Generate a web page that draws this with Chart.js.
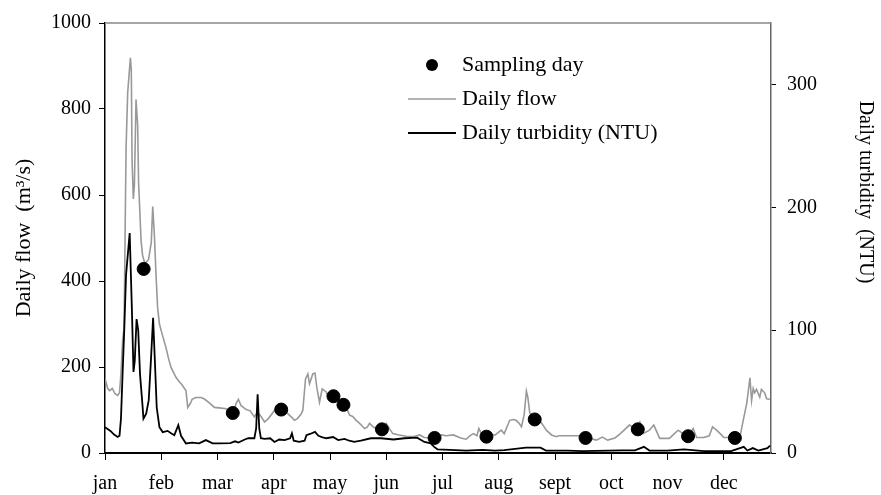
<!DOCTYPE html>
<html>
<head>
<meta charset="utf-8">
<script src="https://cdn.jsdelivr.net/npm/chart.js@4.4.1/dist/chart.umd.min.js"></script>
<style>
  body { margin: 0; background: #fff; }
</style>
</head>
<body>
<canvas id="grafico" width="881" height="495"></canvas>
<script>
// mesi sull'asse x (una tacca ogni 31 giorni)
var monthLabels = ['jan', 'feb', 'mar', 'apr', 'may', 'jun', 'jul', 'aug', 'sept', 'oct', 'nov', 'dec'];
var tickDays = [0, 31, 62, 93, 124, 155, 186, 217, 248, 279, 310, 341];

// portata giornaliera (m3/s)
var flowDays = [0, 1.5, 2.5, 4, 5.5, 7, 8, 8.8, 9.7, 10.5, 11.6, 12.5, 14, 14.5, 14.9, 15.6, 16.2, 17.1, 18, 18.5,
  19.9, 20.7, 22, 24, 25.5, 26.3, 27.2, 28.1, 29, 30, 31, 33.6, 35, 36.4, 38, 39.1, 41, 42, 44.6, 45.6,
  47, 48, 50, 53, 55, 58, 60.3, 63, 66.7, 69, 71, 72.2, 73.5, 75, 77.8, 80, 82.3, 84, 86, 87.9,
  90, 93.4, 96, 99, 102.6, 104.4, 106, 108, 109, 110.5, 111.8, 112.7, 114.5, 115.7, 116.7, 118.2, 119.7, 121.9, 123.5, 125.9,
  128, 130, 131.4, 133, 134.8, 136.5, 138.4, 140, 141.2, 143, 144.5, 145.8, 148, 150, 152.6, 155, 157, 158.6, 162, 166,
  170, 173.4, 176, 181.6, 183, 185.3, 188, 192, 196, 199, 201, 203, 205, 206, 208, 210, 212, 215, 218.4, 220,
  223, 225, 226.5, 228, 229.5, 231, 232.2, 233, 234, 235.5, 238, 240.5, 243.2, 246, 248.8, 250, 253, 257, 261, 264.8,
  267, 270.8, 274, 277, 281, 284, 289, 292, 294.7, 296.5, 300, 302.4, 305.7, 311, 315.8, 318.5, 321.3, 324.1, 326, 330,
  333, 334.8, 337, 339, 341, 345, 347.1, 349.9, 351.7, 353.6, 354.5, 355.4, 356.3, 357.2, 358, 359, 360.8, 361.7, 363.5, 364.6, 366.4];
var flowValues = [173, 150, 145, 150, 138, 134, 140, 185, 261, 290, 707, 838, 919, 890, 683, 591, 623, 822, 762, 630,
  492, 460, 440, 450, 490, 573, 508, 415, 338, 300, 284, 245, 220, 199, 185, 176, 165, 161, 145, 106,
  115, 125, 129, 129, 125, 115, 106, 105, 103, 98, 95, 115, 125, 110, 101, 98, 84, 95, 85, 72,
  80, 99, 100, 98, 84, 76, 80, 90, 99, 172, 184, 161, 184, 186, 153, 118, 149, 142, 125, 132,
  128, 118, 112, 105, 88, 85, 76, 70, 65, 57, 60, 69, 60, 57, 55, 69, 55, 45, 42, 39,
  38, 42, 36, 35, 32, 42, 40, 42, 35, 32, 40, 45, 40, 57, 40, 38, 42, 42, 53, 45,
  76, 78, 76, 70, 61, 90, 144, 130, 95, 78, 76, 70, 53, 42, 38, 40, 40, 40, 40, 35,
  34, 30, 37, 30, 35, 45, 65, 58, 72, 45, 53, 65, 34, 34, 53, 45, 38, 57, 36, 36,
  40, 61, 53, 45, 36, 36, 35, 38, 76, 115, 144, 175, 122, 150, 140, 148, 130, 148, 140, 126, 125];

// torbidita giornaliera (NTU)
var turbDays = [0, 3, 5, 7, 8, 8.8, 9.7, 10.6, 11.6, 13.6, 14.8, 15.7, 16.4, 17.4, 18.3, 19.3, 20.6, 21.2, 22.7, 24.1,
  25.4, 26.5, 27.4, 28.5, 30, 31.8, 34.5, 36.4, 38.2, 40.4, 41.9, 44.6, 48, 51.9, 55.6, 59.3, 63, 69, 71.7, 73.5,
  77, 79, 82.3, 83.3, 84.1, 85, 85.9, 88, 91, 93.4, 96, 99, 102, 103, 104, 107, 110, 111, 113, 115.7,
  117.6, 119.5, 122, 125.7, 128.5, 132, 134.6, 137.3, 141, 146.5, 152, 159, 165, 172, 176, 179.5, 181.4, 183.2, 190, 199,
  208, 215, 220, 232, 240, 243, 255, 263, 285, 292, 297, 300, 310, 319, 330, 345, 352, 354, 357, 360, 365, 366.5];
var turbValues = [21, 18, 15, 13, 14, 28, 65, 100, 145, 179, 118, 66, 75, 109, 100, 64, 40, 28, 32, 43,
  78, 110, 78, 37, 21, 17, 18, 16, 14.5, 22.6, 14, 7.8, 8.5, 7.8, 10.5, 7.8, 7.8, 8, 9.5, 8.5,
  11, 12, 12, 20, 47.7, 20, 12, 11.5, 12, 9, 11, 10.5, 12, 16, 10, 9, 10, 14.5, 15.5, 17.2,
  14, 13, 12, 13, 10.5, 11.5, 10, 9, 10, 12, 12, 11, 12, 12.5, 9, 7.8, 5, 3, 2.5, 1.9,
  2.5, 1.9, 2.3, 4.3, 4.3, 2, 2, 1.5, 2.2, 2.2, 5, 2, 2, 3, 1.5, 1.5, 5, 2, 4, 2, 4, 6];

// giorni di campionamento
var sampleDays = [21.3, 70.4, 97.1, 125.9, 131.4, 152.6, 181.6, 210.2, 236.8, 264.8, 293.6, 321.3, 347.1];
var sampleValues = [428, 93, 101, 132, 112, 55, 35, 38, 78, 35, 55, 39, 35];

var rightTitle = 'Daily turbidity  (NTU)';

function punti(xs, ys) {
  var out = [];
  for (var i = 0; i < xs.length; i++) {
    out.push({ x: xs[i], y: ys[i] });
  }
  return out;
}

var font = { family: 'Liberation Serif', size: 20 };
var fontTitolo = { family: 'Liberation Serif', size: 22 };

// bordo superiore grigio + titolo asse destro
var bordoSopra = {
  id: 'bordoSopra',
  afterDraw: function (chart) {
    var a = chart.chartArea, ctx = chart.ctx;
    ctx.save();
    ctx.strokeStyle = '#888';
    ctx.lineWidth = 1.5;
    ctx.beginPath();
    ctx.moveTo(a.left, a.top);
    ctx.lineTo(a.right, a.top);
    ctx.stroke();

    // titolo a destra, ruotato, piu in alto del centro come nell'originale
    ctx.translate(chart.width - 16, a.top + 169);
    ctx.rotate(Math.PI / 2);
    ctx.font = '20px "Liberation Serif"';
    ctx.fillStyle = '#000';
    ctx.textAlign = 'center';
    ctx.textBaseline = 'middle';
    ctx.fillText(rightTitle, 0, 0);
    ctx.restore();
  }
};

// legenda dentro al grafico
var legenda = {
  id: 'legenda',
  afterDraw: function (chart) {
    var a = chart.chartArea, ctx = chart.ctx;
    var ds = chart.data.datasets;
    var x0 = a.left + 303, x1 = a.left + 351, tx = a.left + 357;
    ctx.save();
    ctx.font = '22px "Liberation Serif"';
    ctx.fillStyle = '#000';
    ctx.textBaseline = 'middle';
    ctx.textAlign = 'left';

    ctx.beginPath();
    ctx.arc(a.left + 327, a.top + 42, 6, 0, Math.PI * 2);
    ctx.fillStyle = ds[0].backgroundColor;
    ctx.fill();
    ctx.fillStyle = '#000';
    ctx.fillText(ds[0].label, tx, a.top + 42);

    var righe = [[ds[1], a.top + 76], [ds[2], a.top + 110]];
    for (var i = 0; i < righe.length; i++) {
      var d = righe[i][0], y = righe[i][1];
      ctx.strokeStyle = d.borderColor;
      ctx.lineWidth = d.borderWidth;
      ctx.beginPath();
      ctx.moveTo(x0, y);
      ctx.lineTo(x1, y);
      ctx.stroke();
      ctx.fillText(d.label, tx, y);
    }
    ctx.restore();
  }
};

var ctx = document.getElementById('grafico');
var myChart = new Chart(ctx, {
  type: 'line',
  data: {
    datasets: [{
      type: 'scatter',
      label: 'Sampling day',
      data: punti(sampleDays, sampleValues),
      backgroundColor: '#000',
      borderColor: '#000',
      pointRadius: 6.5,
      showLine: false,
      yAxisID: 'y',
      order: 0
    }, {
      label: 'Daily flow',
      data: punti(flowDays, flowValues),
      borderColor: '#999',
      borderWidth: 1.6,
      pointRadius: 0,
      tension: 0,
      yAxisID: 'y',
      order: 2
    }, {
      label: 'Daily turbidity (NTU)',
      data: punti(turbDays, turbValues),
      borderColor: '#000',
      borderWidth: 1.8,
      pointRadius: 0,
      tension: 0,
      yAxisID: 'y2',
      order: 1
    }]
  },
  options: {
    responsive: false,
    animation: false,
    layout: { padding: { top: 20, left: 0, right: 0, bottom: 0 } },
    plugins: {
      legend: { display: false },
      tooltip: { enabled: false }
    },
    scales: {
      x: {
        type: 'linear',
        min: 0,
        max: 367,
        afterBuildTicks: function (s) {
          s.ticks = tickDays.map(function (v) { return { value: v }; });
        },
        afterFit: function (s) { s.height = 42; },
        grid: { drawOnChartArea: false, tickLength: 7, color: '#000' },
        border: { color: '#000', width: 2 },
        ticks: {
          color: '#000',
          font: font,
          padding: 12,
          maxRotation: 0,
          callback: function (v, i) { return monthLabels[i]; }
        }
      },
      y: {
        position: 'left',
        min: 0,
        max: 1000,
        afterFit: function (s) { s.width = 105; },
        grid: { drawOnChartArea: false, tickLength: 6, color: '#000' },
        border: { color: '#000', width: 1.5 },
        ticks: {
          color: '#000',
          font: font,
          stepSize: 200,
          padding: 8,
          callback: function (v) { return String(v); }
        },
        title: {
          display: true,
          text: 'Daily flow  (m³/s)',
          color: '#000',
          font: fontTitolo,
          padding: { top: 11, bottom: 0 }
        }
      },
      y2: {
        position: 'right',
        min: 0,
        max: 350,
        afterFit: function (s) { s.width = 110; },
        grid: { drawOnChartArea: false, tickLength: 5, color: '#000' },
        border: { color: '#666', width: 1.5 },
        ticks: {
          color: '#000',
          font: font,
          stepSize: 100,
          padding: 11,
          includeBounds: false,
          callback: function (v) { return String(v); }
        }
      }
    }
  },
  plugins: [bordoSopra, legenda]
});
</script>
</body>
</html>
